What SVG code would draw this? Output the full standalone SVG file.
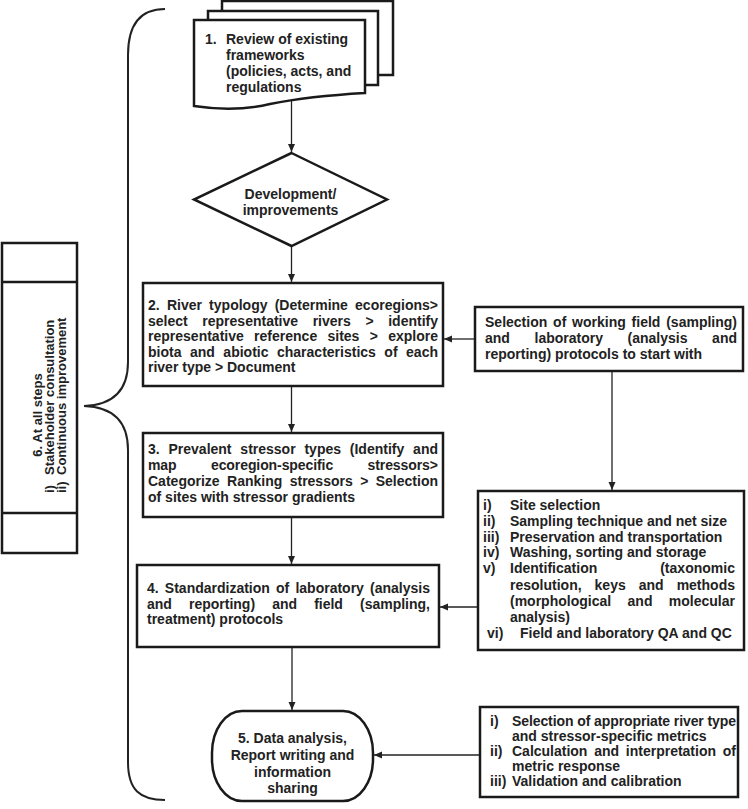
<svg xmlns="http://www.w3.org/2000/svg" width="748" height="809" viewBox="0 0 748 809">
<style>
.box{fill:#fff;stroke:#1a1a1a;stroke-width:2.5}
.t{font-family:"Liberation Sans",Arial,sans-serif;font-weight:bold;font-size:14px;fill:#222}
.r{font-size:13px}
.c{text-anchor:middle}
.conn{stroke:#222;stroke-width:1.3;fill:none;marker-end:url(#ah)}
.brace{stroke:#222;stroke-width:2;fill:none}
</style>
<defs>
<marker id="ah" markerUnits="userSpaceOnUse" markerWidth="8" markerHeight="8" refX="8" refY="4" orient="auto">
<path d="M0,0.5 L8,4 L0,7.5 z" fill="#222"/>
</marker>
</defs>

<path class="brace" d="M165,9 C140,9 128,25 128,55 L128,362 C128,392 112,405 84,406 C112,407 128,420 128,450 L128,762 C128,790 140,800 165,800"/>

<g id="node6">
<rect class="box" x="2" y="243" width="75" height="310"/>
<line x1="2" y1="282" x2="77" y2="282" stroke="#1a1a1a" stroke-width="2.5"/>
<line x1="2" y1="513" x2="77" y2="513" stroke="#1a1a1a" stroke-width="2.5"/>
<text class="t r c" transform="translate(42,415) rotate(-90)">6. At all steps</text>
<text class="t r" transform="translate(54,493) rotate(-90)">i)</text>
<text class="t r" transform="translate(54,475) rotate(-90)">Stakeholder consultation</text>
<text class="t r" transform="translate(66,493) rotate(-90)">ii)</text>
<text class="t r" transform="translate(66,475) rotate(-90)">Continuous improvement</text>
</g>

<g id="node1">
<rect class="box" x="222" y="1" width="171" height="74"/>
<rect class="box" x="208" y="11" width="170" height="74"/>
<path class="box" d="M194,20 L365,20 L365,93 C330,95 300,98 270,104 C245,110 220,110 194,106 Z"/>
<text class="t" x="205" y="44">1.</text>
<text class="t" x="226" y="44">Review of existing</text>
<text class="t" x="226" y="60">frameworks</text>
<text class="t" x="226" y="76">(policies, acts, and</text>
<text class="t" x="226" y="92">regulations</text>
</g>

<g id="decision">
<polygon class="box" points="291.5,153 387,199.5 291.5,246 194,199.5"/>
<text class="t c" x="290.5" y="199">Development/</text>
<text class="t c" x="290.5" y="215">improvements</text>
</g>

<g id="node2">
<rect class="box" x="143" y="283" width="300" height="103"/>
<text class="t" x="148" y="310" textLength="290" lengthAdjust="spacing" style="word-spacing:3.3px">2. River typology (Determine ecoregions&gt;</text>
<text class="t" x="148" y="325.5" textLength="290" lengthAdjust="spacing" style="word-spacing:10.7px">select representative rivers &gt; identify</text>
<text class="t" x="148" y="341" textLength="290" lengthAdjust="spacing" style="word-spacing:6.4px">representative reference sites &gt; explore</text>
<text class="t" x="148" y="356.5" textLength="290" lengthAdjust="spacing" style="word-spacing:4.6px">biota and abiotic characteristics of each</text>
<text class="t" x="148" y="372">river type &gt; Document</text>
</g>

<g id="node3">
<rect class="box" x="143" y="433" width="300" height="84"/>
<text class="t" x="148" y="454" textLength="290" lengthAdjust="spacing" style="word-spacing:4.9px">3. Prevalent stressor types (Identify and</text>
<text class="t" x="148" y="470" textLength="290" lengthAdjust="spacing" style="word-spacing:30.6px">map ecoregion-specific stressors&gt;</text>
<text class="t" x="148" y="486" textLength="290" lengthAdjust="spacing" style="word-spacing:3.5px">Categorize Ranking stressors &gt; Selection</text>
<text class="t" x="148" y="502">of sites with stressor gradients</text>
</g>

<g id="node4">
<rect class="box" x="137" y="565" width="302" height="82"/>
<text class="t" x="147" y="593" textLength="283" lengthAdjust="spacing" style="word-spacing:2.3px">4. Standardization of laboratory (analysis</text>
<text class="t" x="147" y="608.5" textLength="283" lengthAdjust="spacing" style="word-spacing:13.2px">and reporting) and field (sampling,</text>
<text class="t" x="147" y="624">treatment) protocols</text>
</g>

<g id="node5">
<rect class="box" x="212" y="711" width="161" height="90" rx="30" ry="42"/>
<text class="t c" x="292.5" y="743">5. Data analysis,</text>
<text class="t c" x="292.5" y="760">Report writing and</text>
<text class="t c" x="292.5" y="776.5">information</text>
<text class="t c" x="292.5" y="793">sharing</text>
</g>

<g id="protocols">
<rect class="box" x="475" y="307" width="268" height="64"/>
<text class="t" x="485" y="327" textLength="252" lengthAdjust="spacing" style="word-spacing:1.9px">Selection of working field (sampling)</text>
<text class="t" x="485" y="343" textLength="252" lengthAdjust="spacing" style="word-spacing:20.8px">and laboratory (analysis and</text>
<text class="t" x="485" y="359">reporting) protocols to start with</text>
</g>

<g id="fieldlist">
<rect class="box" x="478" y="491" width="266" height="159"/>
<text class="t" x="483" y="510">i)</text><text class="t" x="510" y="510">Site selection</text>
<text class="t" x="483" y="526">ii)</text><text class="t" x="510" y="526">Sampling technique and net size</text>
<text class="t" x="483" y="541.5">iii)</text><text class="t" x="510" y="541.5">Preservation and transportation</text>
<text class="t" x="483" y="557">iv)</text><text class="t" x="510" y="557">Washing, sorting and storage</text>
<text class="t" x="483" y="573">v)</text><text class="t" x="510" y="573" textLength="225" lengthAdjust="spacing" style="word-spacing:59px">Identification (taxonomic</text>
<text class="t" x="510" y="589.5" textLength="225" lengthAdjust="spacing" style="word-spacing:9.1px">resolution, keys and methods</text>
<text class="t" x="510" y="606" textLength="225" lengthAdjust="spacing" style="word-spacing:12.5px">(morphological and molecular</text>
<text class="t" x="510" y="621.5">analysis)</text>
<text class="t" x="487" y="638">vi)</text><text class="t" x="520" y="638">Field and laboratory QA and QC</text>
</g>

<g id="metrics">
<rect class="box" x="480" y="707" width="258" height="90"/>
<text class="t" x="490" y="726">i)</text><text class="t" x="512" y="726" textLength="224" lengthAdjust="spacing">Selection of appropriate river type</text>
<text class="t" x="512" y="741">and stressor-specific metrics</text>
<text class="t" x="490" y="756">ii)</text><text class="t" x="512" y="756" textLength="224" lengthAdjust="spacing" style="word-spacing:2.9px">Calculation and interpretation of</text>
<text class="t" x="512" y="771">metric response</text>
<text class="t" x="490" y="786">iii)</text><text class="t" x="512" y="786">Validation and calibration</text>
</g>

<g id="connectors">
<line class="conn" x1="291.5" y1="101" x2="291.5" y2="152"/>
<line class="conn" x1="291.5" y1="247" x2="291.5" y2="282"/>
<line class="conn" x1="291.5" y1="387" x2="291.5" y2="432"/>
<line class="conn" x1="291.5" y1="518" x2="291.5" y2="564"/>
<line class="conn" x1="292" y1="648" x2="292" y2="710"/>
<line class="conn" x1="474" y1="339" x2="444" y2="339"/>
<line class="conn" x1="612" y1="372" x2="612" y2="490"/>
<line class="conn" x1="477" y1="607" x2="440" y2="607"/>
<line class="conn" x1="479" y1="755" x2="374" y2="755"/>
</g>
</svg>
